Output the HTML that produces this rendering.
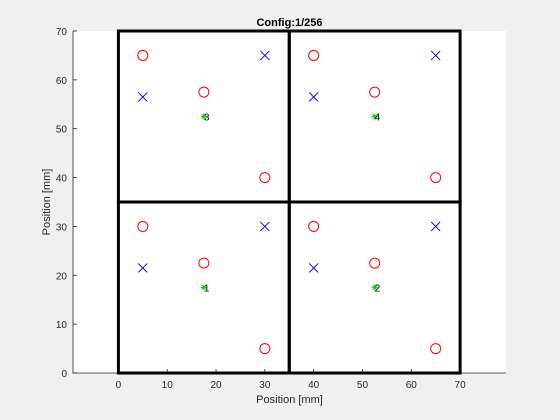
<!DOCTYPE html>
<html><head><meta charset="utf-8"><style>
body{margin:0;background:#f0f0f0;}
svg{display:block;font-family:"Liberation Sans",sans-serif;}
</style></head><body>
<svg id="c" width="560" height="420"></svg>
<script>
const circleX=[5,17.5,30,40,52.5,65,5,17.5,30,40,52.5,65];
const circleY=[65,57.5,40,65,57.5,40,30,22.5,5,30,22.5,5];
const crossX=[5,30,40,65,5,30,40,65];
const crossY=[56.5,65,56.5,65,21.5,30,21.5,30];
const starX=[17.5,52.5,17.5,52.5];
const starY=[17.5,17.5,52.5,52.5];
const starLabels=["1","2","3","4"];
const xTicks=[0,10,20,30,40,50,60,70];
const yTicks=[0,10,20,30,40,50,60,70];
const cells=[[0,0,35,35],[35,0,70,35],[0,35,35,70],[35,35,70,70]];
const xmin=-9.3,xmax=79.4,ymin=0,ymax=70;
const L=73,R=506,T=31,B=373;
const sx=v=>L+(v-xmin)/(xmax-xmin)*(R-L);
const sy=v=>B-(v-ymin)/(ymax-ymin)*(B-T);
const svg=document.getElementById('c');
const NS='http://www.w3.org/2000/svg';
function mk(t,a,p){const e=document.createElementNS(NS,t);for(const k in a)e.setAttribute(k,a[k]);(p||svg).appendChild(e);return e;}
let bg=mk('rect',{x:L,y:T,width:R-L,height:B-T,fill:'#fff'});


let ax=mk('path',{d:`M${L},${T}V${B}H${R}`,stroke:'#262626','stroke-width':0.8,fill:'none'});


xTicks.forEach(v=>{const x=sx(v);
 mk('line',{x1:x,x2:x,y1:B,y2:B-4,stroke:'#262626','stroke-width':0.8});
 let t=mk('text',{x:x,y:B+15,'text-anchor':'middle','font-size':10,fill:'#262626'});t.textContent=v;
 
 });
yTicks.forEach(v=>{const y=sy(v);
 mk('line',{x1:L,x2:L+4,y1:y,y2:y,stroke:'#262626','stroke-width':0.8});
 let t=mk('text',{x:L-6,y:y+4,'text-anchor':'end','font-size':10,fill:'#262626'});t.textContent=v;
 
 });
cells.forEach(c=>{let r=mk('rect',{x:sx(c[0]),y:sy(c[3]),width:sx(c[2])-sx(c[0]),height:sy(c[1])-sy(c[3]),fill:'none',stroke:'#000','stroke-width':3});
 
 });
circleX.forEach((v,i)=>{let e=mk('circle',{cx:sx(v),cy:sy(circleY[i]),r:5,fill:'none',stroke:'#ff0000','stroke-width':1});
 
 });
crossX.forEach((v,i)=>{const x=sx(v),y=sy(crossY[i]),s=4.5;
 let e=mk('path',{d:`M${x-s},${y-s}L${x+s},${y+s}M${x-s},${y+s}L${x+s},${y-s}`,stroke:'#0000ff','stroke-width':1});
 
 });
starX.forEach((v,i)=>{const x=sx(v),y=sy(starY[i]),s=3;
 let e=mk('path',{d:`M${x-s},${y}H${x+s}M${x},${y-s}V${y+s}M${x-2.2},${y-2.2}L${x+2.2},${y+2.2}M${x-2.2},${y+2.2}L${x+2.2},${y-2.2}`,stroke:'#00dd00','stroke-width':1});
 
 
 let t=mk('text',{x:x,y:y+4,'font-size':10,fill:'#000'});t.textContent=starLabels[i];
 
 });
let ti=mk('text',{x:(L+R)/2,y:26,'text-anchor':'middle','font-size':11,'font-weight':'bold',fill:'#000'});ti.textContent='Config:1/256';


let xl=mk('text',{x:(L+R)/2,y:403,'text-anchor':'middle','font-size':11,fill:'#262626'});xl.textContent='Position [mm]';


let yl=mk('text',{x:0,y:0,'text-anchor':'middle','font-size':11,fill:'#262626',transform:`translate(50,${(T+B)/2}) rotate(-90)`});yl.textContent='Position [mm]';


</script>
</body></html>
